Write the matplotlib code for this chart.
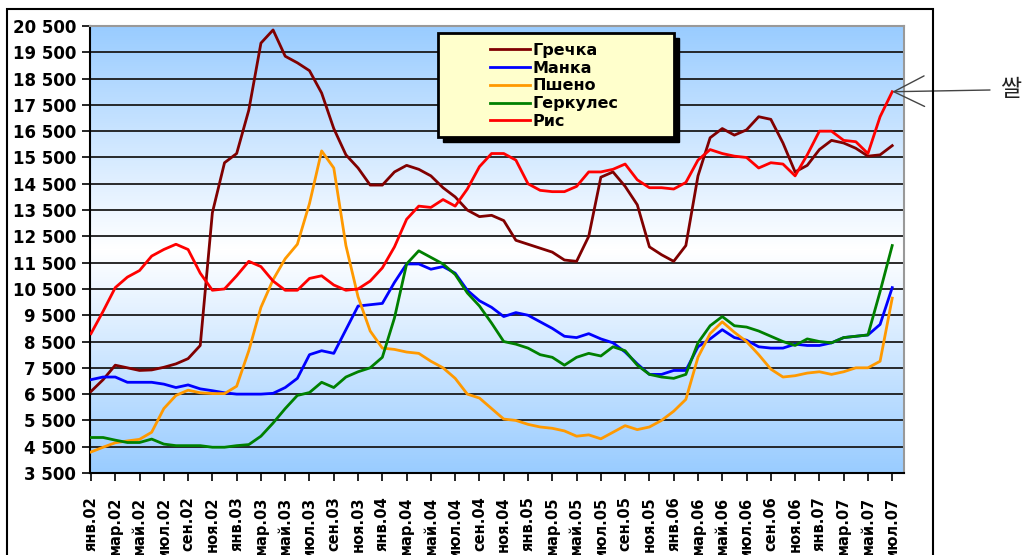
import numpy as np
import matplotlib
matplotlib.use('Agg')
import matplotlib.pyplot as plt
from matplotlib.colors import LinearSegmentedColormap
from matplotlib.patches import Rectangle
from matplotlib.ticker import FuncFormatter

# помесячные цены, янв.02 .. июл.07
grechka = [6600, 7050, 7600, 7500, 7400, 7420, 7520, 7650, 7850, 8350,
           13400, 15300, 15650, 17300, 19850, 20350, 19350, 19100, 18800, 17950,
           16600, 15600, 15100, 14450, 14450, 14950, 15200, 15050, 14800, 14350,
           14000, 13500, 13250, 13300, 13100, 12350, 12200, 12050, 11900, 11600,
           11550, 12500, 14750, 14950, 14400, 13700, 12100, 11800, 11550, 12150,
           14800, 16250, 16600, 16350, 16550, 17050, 16950, 16050, 14950, 15200,
           15800, 16150, 16050, 15850, 15550, 15600, 15950]
manka = [7050, 7150, 7150, 6950, 6950, 6950, 6880, 6750, 6850, 6700,
         6630, 6550, 6500, 6500, 6500, 6530, 6750, 7100, 8000, 8150,
         8050, 8950, 9850, 9900, 9950, 10750, 11450, 11450, 11250, 11350,
         11100, 10450, 10050, 9800, 9450, 9600, 9500, 9250, 9000, 8700,
         8650, 8800, 8600, 8450, 8100, 7650, 7250, 7250, 7400, 7400,
         8300, 8600, 8950, 8650, 8550, 8300, 8250, 8250, 8400, 8350,
         8350, 8450, 8650, 8700, 8750, 9150, 10550]
psheno = [4300, 4480, 4650, 4720, 4780, 5050, 5950, 6450, 6650, 6550,
          6520, 6520, 6800, 8150, 9800, 10850, 11650, 12200, 13750, 15750,
          15100, 12150, 10200, 8900, 8250, 8200, 8100, 8050, 7750, 7500,
          7100, 6500, 6350, 5950, 5550, 5500, 5350, 5250, 5200, 5100,
          4900, 4950, 4800, 5050, 5300, 5150, 5250, 5500, 5850, 6300,
          7900, 8800, 9250, 8850, 8500, 8000, 7450, 7150, 7200, 7300,
          7350, 7250, 7350, 7500, 7500, 7750, 10150]
gerkules = [4850, 4850, 4750, 4660, 4660, 4790, 4600, 4540, 4540, 4540,
            4480, 4480, 4540, 4580, 4900, 5400, 5950, 6450, 6560, 6950,
            6750, 7150, 7350, 7500, 7900, 9400, 11450, 11950, 11700, 11450,
            11050, 10350, 9850, 9200, 8500, 8400, 8250, 8000, 7900, 7600,
            7900, 8050, 7950, 8300, 8150, 7600, 7250, 7150, 7100, 7250,
            8450, 9100, 9450, 9100, 9050, 8900, 8700, 8500, 8350, 8600,
            8500, 8450, 8650, 8700, 8750, 10400, 12150]
ris = [8800, 9650, 10550, 10950, 11200, 11750, 12000, 12200, 12000, 11100,
       10450, 10500, 11000, 11550, 11350, 10800, 10450, 10450, 10900, 11000,
       10650, 10450, 10500, 10800, 11300, 12100, 13150, 13650, 13600, 13900,
       13650, 14300, 15150, 15650, 15650, 15400, 14500, 14250, 14200, 14200,
       14400, 14950, 14950, 15050, 15250, 14650, 14350, 14350, 14300, 14550,
       15400, 15800, 15650, 15550, 15500, 15100, 15300, 15250, 14800, 15600,
       16500, 16500, 16150, 16100, 15650, 17050, 18000]

names = ['Гречка', 'Манка', 'Пшено', 'Геркулес', 'Рис']
colors = ['#800000', '#0000FF', '#FF9900', '#008000', '#FF0000']
series = [grechka, manka, psheno, gerkules, ris]

tick_months = ['янв', 'мар', 'май', 'июл', 'сен', 'ноя']
tick_labels = [m + '.%02d' % y for y in range(2, 8) for m in tick_months][:34]

x = np.arange(len(ris))

fig = plt.figure(figsize=(10.3, 5.55), dpi=100)
ax = fig.add_axes([90 / 1030, 82 / 555, 814 / 1030, 447 / 555])

# фон с градиентом
cmap = LinearSegmentedColormap.from_list('bg', ['#99CCFF', '#FFFFFF'])
grad = 1 - np.abs(np.linspace(-1, 1, 256))[:, None]
ax.imshow(grad, cmap=cmap, aspect='auto', extent=(-0.08, 66.97, 3500, 20500),
          origin='lower', zorder=0)

for v in range(4500, 20500, 1000):
    ax.axhline(v, color='#1a1a1a', lw=1.3, zorder=1)

for s, n, c in zip(series, names, colors):
    ax.plot(x, s, color=c, lw=2.0, label=n, zorder=3)

ax.set_xlim(-0.08, 66.97)
ax.set_ylim(3500, 20500)
ax.set_yticks(range(3500, 20501, 1000))
ax.yaxis.set_major_formatter(FuncFormatter(lambda v, p: '{:,}'.format(int(v)).replace(',', ' ')))
ax.set_xticks(range(0, 67, 2))
ax.set_xticklabels(tick_labels, rotation=90, fontsize=10.5, fontweight='bold')
for lab in ax.get_yticklabels():
    lab.set_fontsize(12)
    lab.set_fontweight('bold')
ax.tick_params(axis='both', direction='out', length=6, width=1.2, color='black')
ax.tick_params(axis='y', pad=4)
ax.tick_params(axis='x', pad=11)

for side in ['left', 'bottom']:
    ax.spines[side].set_color('black')
    ax.spines[side].set_linewidth(1.5)
for side in ['top', 'right']:
    ax.spines[side].set_color('#999999')
    ax.spines[side].set_linewidth(1.5)

# рамка легенды с тенью
bx0, bx1 = 0.4275, 0.7174
by0, by1 = 0.7517, 0.9843
ax.add_patch(Rectangle((bx0 + 0.0061, by0 - 0.0112), bx1 - bx0, by1 - by0,
                       transform=ax.transAxes, facecolor='black', edgecolor='black',
                       zorder=4.5))
ax.add_patch(Rectangle((bx0, by0), bx1 - bx0, by1 - by0, transform=ax.transAxes,
                       facecolor='#FFFFCC', edgecolor='black', lw=2, zorder=4.6))
leg = ax.legend(loc='upper left', bbox_to_anchor=(0.4914, 0.962), frameon=False,
                borderpad=0, borderaxespad=0, handlelength=2.5, handletextpad=0.15,
                labelspacing=0.17, prop={'size': 11.5, 'weight': 'bold'})
leg.set_zorder(5)

# внешняя рамка
fig.add_artist(Rectangle((7 / 1030, -0.1), 926 / 1030, 0.1 + 546 / 555,
                         transform=fig.transFigure, fill=False, edgecolor='black',
                         lw=1.5, clip_on=False))

# подпись справа
ax.annotate('', xy=(x[-1], ris[-1]), xycoords='data', xytext=(990, 465),
            textcoords='figure pixels', annotation_clip=False,
            arrowprops=dict(arrowstyle='->,head_length=2.2,head_width=1.1',
                            color='#444444', lw=1, shrinkA=0, shrinkB=0,
                            mutation_scale=10))
fig.text(1000 / 1030, 465 / 555, '쌀', family=['Noto Sans CJK KR', 'DejaVu Sans'],
         fontsize=16.5, color='#222222', ha='left', va='center')

fig.savefig('out.png', dpi=100)
